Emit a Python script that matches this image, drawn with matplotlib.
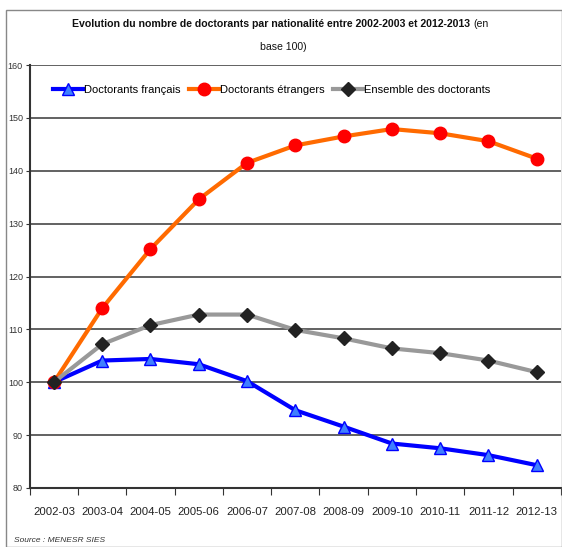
import matplotlib
matplotlib.use("Agg")
import matplotlib.pyplot as plt
from matplotlib.patches import Rectangle

# ── data ─────────────────────────────────────────────────────────────────────
years = ["2002-03", "2003-04", "2004-05", "2005-06", "2006-07", "2007-08",
         "2008-09", "2009-10", "2010-11", "2011-12", "2012-13"]
francais  = [100, 104.1, 104.4, 103.4, 100.2, 94.7, 91.6, 88.4, 87.5, 86.2, 84.3]
etrangers = [100, 114.0, 125.2, 134.6, 141.5, 144.8, 146.5, 147.9, 147.1, 145.6, 142.3]
ensemble  = [100, 107.2, 110.8, 112.8, 112.8, 109.9, 108.3, 106.4, 105.5, 104.1, 101.9]
yticks = [80, 90, 100, 110, 120, 130, 140, 150, 160]

plt.rcParams["font.family"] = ["Liberation Sans", "DejaVu Sans"]

fig = plt.figure(figsize=(5.62, 5.47), dpi=100)
ax = fig.add_axes([0.053, 0.108, 0.945, 0.773])

x = list(range(len(years)))
ax.plot(x, francais, color="#0000ff", lw=3, marker="^", ms=8,
        mfc="#3f7fff", mec="#0000ff", mew=1, label="Doctorants français", zorder=3)
ax.plot(x, etrangers, color="#ff6a00", lw=3, marker="o", ms=9,
        mfc="#ff0000", mec="#ff0000", label="Doctorants étrangers", zorder=3)
ax.plot(x, ensemble, color="#999999", lw=3, marker="D", ms=7,
        mfc="#222222", mec="#222222", label="Ensemble des doctorants", zorder=4)

ax.set_xlim(-0.5, len(years) - 0.5)
ax.set_ylim(80, 160)
ax.set_yticks(yticks)
ax.set_yticklabels([str(v) for v in yticks], fontsize=6.5, color="#333333")
ax.set_xticks([i - 0.5 for i in range(len(years) + 1)])
ax.set_xticklabels([])
ax.set_xticks(x, minor=True)
ax.set_xticklabels(years, minor=True, fontsize=8.2, color="#222222")
ax.tick_params(axis="x", which="minor", length=0, pad=14)
ax.tick_params(axis="x", which="major", length=5, color="#333333", direction="out")
ax.tick_params(axis="y", length=3, color="#333333", pad=2)

ax.grid(axis="y", color="#555555", lw=1.3)
ax.set_axisbelow(True)
for s in ("top", "right"):
    ax.spines[s].set_visible(False)
for s in ("left", "bottom"):
    ax.spines[s].set_color("#333333")
    ax.spines[s].set_linewidth(1.5)

ax.legend(loc="upper center", bbox_to_anchor=(0.455, 0.972), ncol=3, frameon=False,
          fontsize=8, handlelength=2.7, handletextpad=0.05, columnspacing=0.8,
          borderaxespad=0.3)

# title: bold part followed by a normal "(en", second line centred
fig.canvas.draw()
r = fig.canvas.get_renderer()
t1 = fig.text(0, 0.956, "Evolution du nombre de doctorants par nationalité entre 2002-2003 et 2012-2013",
              ha="left", va="center", fontsize=7.6, fontweight="bold", color="#111111")
t2 = fig.text(0, 0.956, "(en", ha="left", va="center", fontsize=7.6, color="#111111")
w1 = t1.get_window_extent(r).width
w2 = t2.get_window_extent(r).width
W = fig.bbox.width
x0 = 280 - (w1 + 3 + w2) / 2
t1.set_x(x0 / W)
t2.set_x((x0 + w1 + 3) / W)
fig.text(283 / W, 0.914, "base 100)", ha="center", va="center", fontsize=7.6, color="#111111")

fig.text(0.025, 0.010, "Source : MENESR SIES", fontsize=6, style="italic", color="#333333")

fig.patches.append(Rectangle((0.010, 0.0), 0.99, 0.982, transform=fig.transFigure,
                             fill=False, ec="#888888", lw=1))

fig.savefig("out.png", dpi=100)
